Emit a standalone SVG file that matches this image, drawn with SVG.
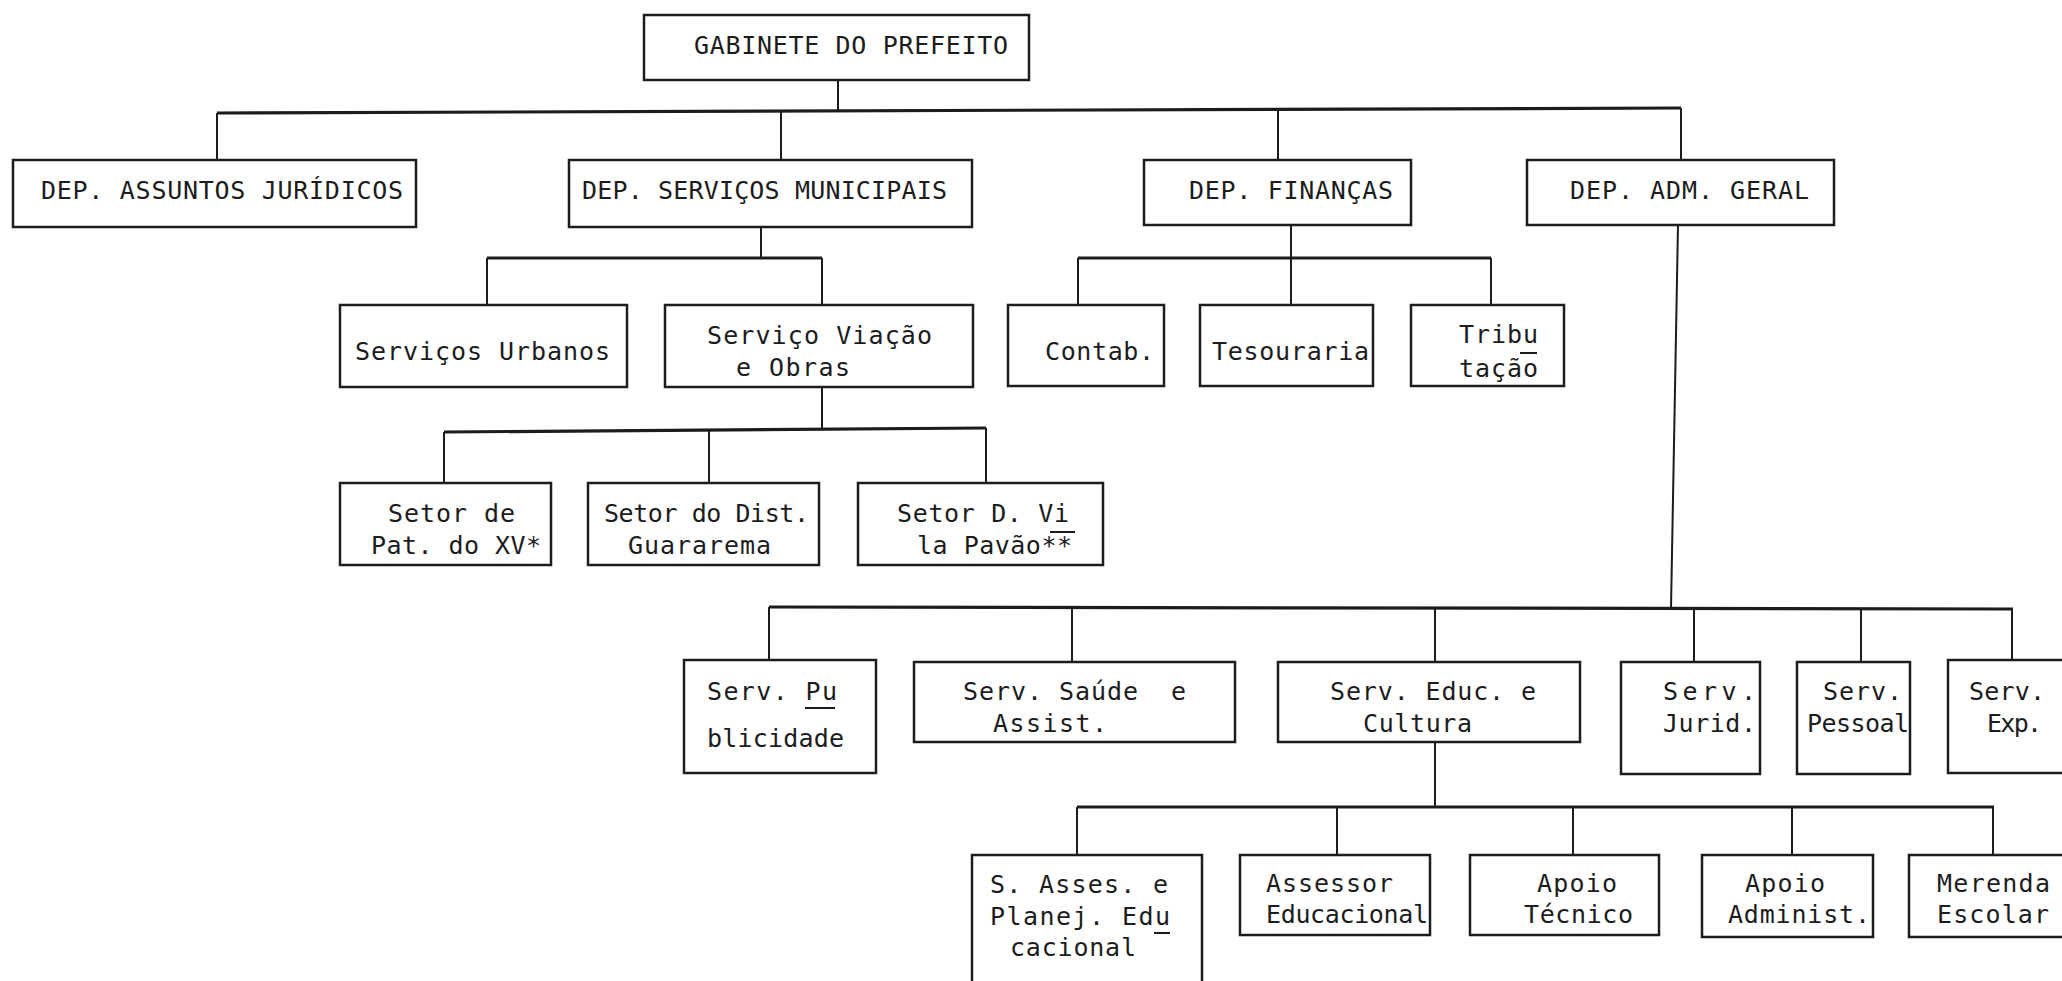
<svg xmlns="http://www.w3.org/2000/svg" width="2062" height="981" viewBox="0 0 2062 981">
<style>
.box{fill:none;stroke:#1c1c1c;stroke-width:2.5}
.ln{fill:none;stroke:#1c1c1c;stroke-width:2}
.bus{fill:none;stroke:#1c1c1c;stroke-width:3.2}
.hy{fill:none;stroke:#1c1c1c;stroke-width:2}
text{font-family:"DejaVu Sans Mono","Liberation Mono",monospace;font-size:25px;fill:#1c1c1c}
</style>
<rect width="2062" height="981" fill="#ffffff"/>
<g id="connectors">
<line class="ln" x1="838" y1="80" x2="838" y2="112"/>
<line class="bus" x1="217" y1="113" x2="1681" y2="108"/>
<line class="ln" x1="217" y1="113" x2="217" y2="160"/>
<line class="ln" x1="781" y1="111" x2="781" y2="160"/>
<line class="ln" x1="1278" y1="110" x2="1278" y2="160"/>
<line class="ln" x1="1681" y1="108" x2="1681" y2="160"/>
<line class="ln" x1="761" y1="227" x2="761" y2="258"/>
<line class="bus" x1="487" y1="258" x2="822" y2="258"/>
<line class="ln" x1="487" y1="258" x2="487" y2="305"/>
<line class="ln" x1="822" y1="258" x2="822" y2="305"/>
<line class="ln" x1="1291" y1="225" x2="1291" y2="305"/>
<line class="bus" x1="1078" y1="258" x2="1491" y2="258"/>
<line class="ln" x1="1078" y1="258" x2="1078" y2="305"/>
<line class="ln" x1="1491" y1="258" x2="1491" y2="305"/>
<line class="ln" x1="822" y1="387" x2="822" y2="430"/>
<line class="bus" x1="444" y1="432" x2="986" y2="428"/>
<line class="ln" x1="444" y1="432" x2="444" y2="483"/>
<line class="ln" x1="709" y1="430" x2="709" y2="483"/>
<line class="ln" x1="986" y1="428" x2="986" y2="483"/>
<line class="ln" x1="1678" y1="225" x2="1671" y2="608"/>
<line class="bus" x1="769" y1="607" x2="2013" y2="609"/>
<line class="ln" x1="769" y1="607" x2="769" y2="660"/>
<line class="ln" x1="1072" y1="608" x2="1072" y2="662"/>
<line class="ln" x1="1435" y1="608" x2="1435" y2="662"/>
<line class="ln" x1="1694" y1="608" x2="1694" y2="662"/>
<line class="ln" x1="1861" y1="608" x2="1861" y2="662"/>
<line class="ln" x1="2012" y1="609" x2="2012" y2="660"/>
<line class="ln" x1="1435" y1="742" x2="1435" y2="807"/>
<line class="bus" x1="1077" y1="807" x2="1994" y2="807"/>
<line class="ln" x1="1077" y1="807" x2="1077" y2="855"/>
<line class="ln" x1="1337" y1="807" x2="1337" y2="855"/>
<line class="ln" x1="1573" y1="807" x2="1573" y2="855"/>
<line class="ln" x1="1792" y1="807" x2="1792" y2="855"/>
<line class="ln" x1="1993" y1="807" x2="1993" y2="855"/>
</g>
<g id="gabinete">
<rect class="box" x="644" y="15" width="385" height="65"/>
<text x="694" y="54" textLength="314" lengthAdjust="spacing">GABINETE DO PREFEITO</text>
</g>
<g id="dep-juridicos">
<rect class="box" x="13" y="160" width="403" height="67"/>
<text x="41" y="199" textLength="362" lengthAdjust="spacing">DEP. ASSUNTOS JURÍDICOS</text>
</g>
<g id="dep-servicos">
<rect class="box" x="569" y="160" width="403" height="67"/>
<text x="582" y="199" textLength="365" lengthAdjust="spacing">DEP. SERVIÇOS MUNICIPAIS</text>
</g>
<g id="dep-financas">
<rect class="box" x="1144" y="160" width="267" height="65"/>
<text x="1189" y="199" textLength="204" lengthAdjust="spacing">DEP. FINANÇAS</text>
</g>
<g id="dep-adm">
<rect class="box" x="1527" y="160" width="307" height="65"/>
<text x="1570" y="199" textLength="239" lengthAdjust="spacing">DEP. ADM. GERAL</text>
</g>
<g id="servicos-urbanos">
<rect class="box" x="340" y="305" width="287" height="82"/>
<text x="355" y="360" textLength="255" lengthAdjust="spacing">Serviços Urbanos</text>
</g>
<g id="servico-viacao">
<rect class="box" x="665" y="305" width="308" height="82"/>
<text x="707" y="344" textLength="225" lengthAdjust="spacing">Serviço Viação</text>
<text x="736" y="376" textLength="114" lengthAdjust="spacing">e Obras</text>
</g>
<g id="contab">
<rect class="box" x="1008" y="305" width="156" height="81"/>
<text x="1045" y="360" textLength="109" lengthAdjust="spacing">Contab.</text>
</g>
<g id="tesouraria">
<rect class="box" x="1200" y="305" width="173" height="81"/>
<text x="1212" y="360" textLength="157" lengthAdjust="spacing">Tesouraria</text>
</g>
<g id="tributacao">
<rect class="box" x="1411" y="305" width="153" height="81"/>
<text x="1459" y="343" textLength="79" lengthAdjust="spacing">Tribu</text>
<line class="hy" x1="1520" y1="353" x2="1537" y2="353"/>
<text x="1459" y="377" textLength="79" lengthAdjust="spacing">tação</text>
</g>
<g id="setor-pat">
<rect class="box" x="340" y="483" width="211" height="82"/>
<text x="388" y="522" textLength="127" lengthAdjust="spacing">Setor de</text>
<text x="371" y="554" textLength="170" lengthAdjust="spacing">Pat. do XV*</text>
</g>
<g id="setor-dist">
<rect class="box" x="588" y="483" width="231" height="82"/>
<text x="604" y="522" textLength="205" lengthAdjust="spacing">Setor do Dist.</text>
<text x="628" y="554" textLength="143" lengthAdjust="spacing">Guararema</text>
</g>
<g id="setor-vila">
<rect class="box" x="858" y="483" width="245" height="82"/>
<text x="897" y="522" textLength="172" lengthAdjust="spacing">Setor D. Vi</text>
<line class="hy" x1="1050" y1="532" x2="1075" y2="532"/>
<text x="917" y="554" textLength="155" lengthAdjust="spacing">la Pavão**</text>
</g>
<g id="serv-publicidade">
<rect class="box" x="684" y="660" width="192" height="113"/>
<text x="707" y="700" textLength="130" lengthAdjust="spacing">Serv. Pu</text>
<line class="hy" x1="805" y1="708" x2="835" y2="708"/>
<text x="707" y="747" textLength="137" lengthAdjust="spacing">blicidade</text>
</g>
<g id="serv-saude">
<rect class="box" x="914" y="662" width="321" height="80"/>
<text x="963" y="700" textLength="223" lengthAdjust="spacing">Serv. Saúde&#160; e</text>
<text x="993" y="732" textLength="114" lengthAdjust="spacing">Assist.</text>
</g>
<g id="serv-educ">
<rect class="box" x="1278" y="662" width="302" height="80"/>
<text x="1330" y="700" textLength="206" lengthAdjust="spacing">Serv. Educ. e</text>
<text x="1363" y="732" textLength="109" lengthAdjust="spacing">Cultura</text>
</g>
<g id="serv-jurid">
<rect class="box" x="1621" y="662" width="139" height="112"/>
<text x="1663" y="700" textLength="93" lengthAdjust="spacing">Serv.</text>
<text x="1663" y="732" textLength="93" lengthAdjust="spacing">Jurid.</text>
</g>
<g id="serv-pessoal">
<rect class="box" x="1797" y="662" width="113" height="112"/>
<text x="1823" y="700" textLength="79" lengthAdjust="spacing">Serv.</text>
<text x="1807" y="732" textLength="102" lengthAdjust="spacing">Pessoal</text>
</g>
<g id="serv-exp">
<path class="box" d="M2062,660 H1948 V773 H2062"/>
<text x="1969" y="700" textLength="76" lengthAdjust="spacing">Serv.</text>
<text x="1987" y="732" textLength="55" lengthAdjust="spacing">Exp.</text>
</g>
<g id="s-asses">
<path class="box" d="M972,981 V855 H1202 V981"/>
<text x="990" y="893" textLength="178" lengthAdjust="spacing">S. Asses. e</text>
<text x="990" y="925" textLength="180" lengthAdjust="spacing">Planej. Edu</text>
<line class="hy" x1="1154" y1="933" x2="1170" y2="933"/>
<text x="1010" y="956" textLength="126" lengthAdjust="spacing">cacional</text>
</g>
<g id="assessor-educacional">
<rect class="box" x="1240" y="855" width="190" height="80"/>
<text x="1266" y="892" textLength="127" lengthAdjust="spacing">Assessor</text>
<text x="1266" y="923" textLength="162" lengthAdjust="spacing">Educacional</text>
</g>
<g id="apoio-tecnico">
<rect class="box" x="1470" y="855" width="189" height="80"/>
<text x="1537" y="892" textLength="80" lengthAdjust="spacing">Apoio</text>
<text x="1524" y="923" textLength="109" lengthAdjust="spacing">Técnico</text>
</g>
<g id="apoio-administ">
<rect class="box" x="1702" y="855" width="171" height="82"/>
<text x="1745" y="892" textLength="80" lengthAdjust="spacing">Apoio</text>
<text x="1728" y="923" textLength="142" lengthAdjust="spacing">Administ.</text>
</g>
<g id="merenda-escolar">
<path class="box" d="M2062,855 H1909 V937 H2062"/>
<text x="1937" y="892" textLength="113" lengthAdjust="spacing">Merenda</text>
<text x="1937" y="923" textLength="112" lengthAdjust="spacing">Escolar</text>
</g>
</svg>
